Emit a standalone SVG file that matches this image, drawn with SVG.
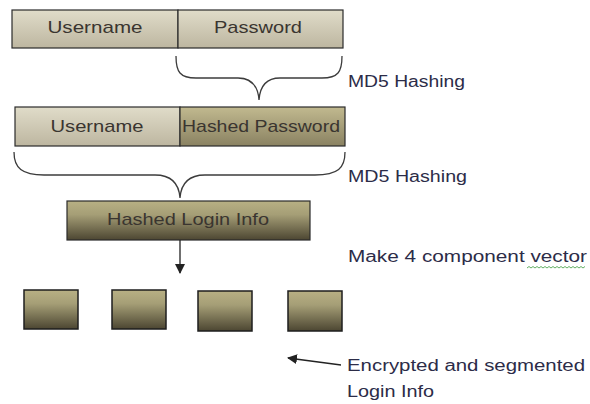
<svg xmlns="http://www.w3.org/2000/svg" width="590" height="404" viewBox="0 0 590 404">
<defs>
<linearGradient id="gLight" x1="0" y1="0" x2="0" y2="1"><stop offset="0" stop-color="#e0dcc9"/><stop offset="1" stop-color="#bdb6a0"/></linearGradient>
<linearGradient id="gMid" x1="0" y1="0" x2="0" y2="1"><stop offset="0" stop-color="#c1b98f"/><stop offset="1" stop-color="#8a8262"/></linearGradient>
<linearGradient id="gDark" x1="0" y1="0" x2="0" y2="1"><stop offset="0" stop-color="#b8b084"/><stop offset="0.35" stop-color="#a59e76"/><stop offset="1" stop-color="#4c4632"/></linearGradient>
<marker id="arr" viewBox="0 0 10 10" refX="9" refY="5" markerWidth="10" markerHeight="10" markerUnits="userSpaceOnUse" orient="auto"><path d="M0,0 L10,5 L0,10 z" fill="#222"/></marker>
<style>
.box{stroke:#2b2b2b;stroke-width:1.2}
.sq{fill:url(#gDark);stroke:#1e1e1e;stroke-width:1.5}
.t{font-family:"Liberation Sans",Arial,sans-serif;font-size:17px;fill:#3a3530;text-anchor:middle}
.lbl{font-family:"Liberation Sans",Arial,sans-serif;font-size:16px;fill:#2c2c48}
.brace{fill:none;stroke:#3c3c3c;stroke-width:1.3}
.con{stroke:#222;stroke-width:1.3;fill:none}
</style>
</defs>
<g id="username1"><rect class="box" x="12" y="10" width="166" height="38" fill="url(#gLight)"/><text class="t" x="95" y="33" textLength="95" lengthAdjust="spacingAndGlyphs">Username</text></g>
<g id="password1"><rect class="box" x="178" y="10" width="165" height="38" fill="url(#gLight)"/><text class="t" x="258" y="33" textLength="88" lengthAdjust="spacingAndGlyphs">Password</text></g>
<g id="username2"><rect class="box" x="15" y="107" width="165" height="39" fill="url(#gLight)"/><text class="t" x="97" y="132" textLength="93" lengthAdjust="spacingAndGlyphs">Username</text></g>
<g id="hashedpw"><rect class="box" x="180" y="107" width="165" height="39" fill="url(#gMid)"/><text class="t" x="261" y="132" textLength="158" lengthAdjust="spacingAndGlyphs">Hashed Password</text></g>
<g id="hashedlogin"><rect class="box" x="67" y="201" width="243" height="39" fill="url(#gDark)"/><text class="t" x="188" y="225" textLength="162" lengthAdjust="spacingAndGlyphs">Hashed Login Info</text></g>
<g id="seg1"><rect class="sq" x="24" y="290" width="54" height="39"/></g>
<g id="seg2"><rect class="sq" x="112" y="290" width="54" height="39"/></g>
<g id="seg3"><rect class="sq" x="198" y="291" width="54" height="40"/></g>
<g id="seg4"><rect class="sq" x="288" y="291" width="54" height="40"/></g>
<g id="connectors">
<path class="brace" d="M176,56 C176,72 180,78 196,78 L238,78 C252,78 258,86 259,100 C260,86 266,78 280,78 L322,78 C338,78 342,72 342,56"/>
<path class="brace" d="M14,152 C14,168 22,175 44,175 L155,175 C172,175 179,184 180,198 C181,184 188,175 205,175 L315,175 C338,175 345,168 345,152"/>
<line class="con" x1="180" y1="240" x2="180" y2="273" marker-end="url(#arr)"/>
<line class="con" x1="341" y1="365" x2="288" y2="358" marker-end="url(#arr)"/>
</g>
<g id="labels">
<text class="lbl" x="348" y="87" textLength="117" lengthAdjust="spacingAndGlyphs">MD5 Hashing</text>
<text class="lbl" x="348" y="182" textLength="119" lengthAdjust="spacingAndGlyphs">MD5 Hashing</text>
<text class="lbl" x="348" y="262" textLength="239" lengthAdjust="spacingAndGlyphs">Make 4 component vector</text>
<path d="M527,268 l2,-1.5 l2,1.5 l2,-1.5 l2,1.5 l2,-1.5 l2,1.5 l2,-1.5 l2,1.5 l2,-1.5 l2,1.5 l2,-1.5 l2,1.5 l2,-1.5 l2,1.5 l2,-1.5 l2,1.5 l2,-1.5 l2,1.5 l2,-1.5 l2,1.5 l2,-1.5 l2,1.5 l2,-1.5 l2,1.5 l2,-1.5 l2,1.5 l2,-1.5 l2,1.5 l2,-1.5" fill="none" stroke="#3c9a3c" stroke-width="0.8"/>
<text class="lbl" x="347" y="371" textLength="238" lengthAdjust="spacingAndGlyphs">Encrypted and segmented</text>
<text class="lbl" x="347" y="397" textLength="87" lengthAdjust="spacingAndGlyphs">Login Info</text>
</g>
</svg>
